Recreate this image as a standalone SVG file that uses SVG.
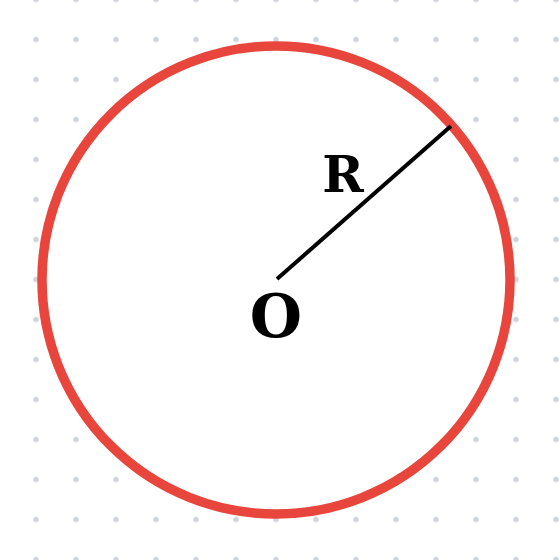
<svg xmlns="http://www.w3.org/2000/svg" width="560" height="560" viewBox="0 0 560 560">
  <defs>
    <pattern id="dots" x="16" y="-20.5" width="40" height="40" patternUnits="userSpaceOnUse">
      <circle cx="20" cy="20" r="2.8" fill="#cfd4dc"/>
    </pattern>
    <style>
      .lbl { font-family: "DejaVu Serif", "Liberation Serif", serif; font-weight: bold; fill: #000; text-anchor: middle; }
    </style>
  </defs>
  <rect width="560" height="560" fill="#ffffff"/>
  <rect width="560" height="560" fill="url(#dots)"/>
  <g id="circle">
    <circle cx="276" cy="280" r="234" fill="#ffffff" stroke="#e8463d" stroke-width="9.5"/>
  </g>
  <g id="connectors">
    <line x1="277" y1="279" x2="451" y2="126" stroke="#000" stroke-width="4"/>
  </g>
  <g id="label-R">
    <text class="lbl" x="343" y="192" font-size="50">R</text>
  </g>
  <g id="label-O">
    <text class="lbl" x="276" y="337" font-size="60">O</text>
  </g>
</svg>
